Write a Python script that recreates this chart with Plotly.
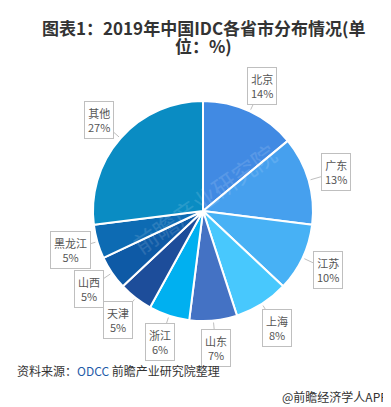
import math
import plotly.graph_objects as go

categories = ["北京", "广东", "江苏", "上海", "山东", "浙江", "天津", "山西", "黑龙江", "其他"]
values = [14, 13, 10, 8, 7, 6, 5, 5, 5, 27]
colors = ["#418AE3", "#46A0EE", "#47B1F5", "#48C8FD", "#4472C4",
          "#00B0F0", "#1D4D9A", "#0E5AA6", "#0D6BB3", "#0A8CC3"]

W, H = 391, 407
cx, cy, R = 195, 203, 110

fig = go.Figure(go.Pie(
    labels=categories, values=values, sort=False, direction="clockwise",
    marker=dict(colors=colors, line=dict(color="white", width=2)),
    textinfo="none", hoverinfo="label+percent", showlegend=False,
    domain=dict(x=[(cx - R) / W, (cx + R) / W],
                y=[(H - cy - R) / H, (H - cy + R) / H]),
))

total = sum(values)
cum = 0
annotations = []
for name, v in zip(categories, values):
    mid = (cum + v / 2) / total * 2 * math.pi
    cum += v
    ex, ey = cx + (R + 2) * math.sin(mid), cy - (R + 2) * math.cos(mid)
    lx, ly = cx + 138 * math.sin(mid), cy - 138 * math.cos(mid)
    annotations.append(dict(
        x=ex / W, y=1 - ey / H, xref="paper", yref="paper",
        ax=lx - ex, ay=ly - ey, axref="pixel", ayref="pixel",
        text=f"{name}<br>{v}%", showarrow=True, arrowhead=0, arrowwidth=1,
        arrowcolor="#BFBFBF", bordercolor="#BFBFBF", borderwidth=1,
        borderpad=3, bgcolor="white",
        font=dict(size=11, color="#555555", family="Noto Sans CJK SC"),
    ))

annotations += [
    dict(x=0.5, y=1 - 19 / H, xref="paper", yref="paper", yanchor="middle",
         text="<b>图表1：2019年中国IDC各省市分布情况(单</b>",
         showarrow=False, font=dict(size=17, color="#333333", family="Noto Sans CJK SC")),
    dict(x=0.5, y=1 - 37 / H, xref="paper", yref="paper", yanchor="middle",
         text="<b>位：%)</b>",
         showarrow=False, font=dict(size=17, color="#333333", family="Noto Sans CJK SC")),
    dict(x=7 / W, y=1 - 373 / H, xref="paper", yref="paper", xanchor="left",
         text="资料来源：<span style='color:#1F5BA8'>ODCC</span> 前瞻产业研究院整理",
         showarrow=False, font=dict(size=12, color="#333333", family="Noto Sans CJK SC")),
    dict(x=272 / W, y=1 - 399 / H, xref="paper", yref="paper", xanchor="left",
         text="@前瞻经济学人APP", showarrow=False,
         font=dict(size=12, color="#333333", family="Noto Sans CJK SC")),
    dict(x=0.5, y=1 - 190 / H, xref="paper", yref="paper", textangle=-35,
         text="前瞻产业研究院", showarrow=False, opacity=0.12,
         font=dict(size=24, color="#FFFFFF", family="Noto Sans CJK SC")),
]

fig.update_layout(
    width=W, height=H, margin=dict(l=0, r=0, t=0, b=0),
    paper_bgcolor="white", plot_bgcolor="white",
    annotations=annotations,
)

fig.write_html("out.html")
